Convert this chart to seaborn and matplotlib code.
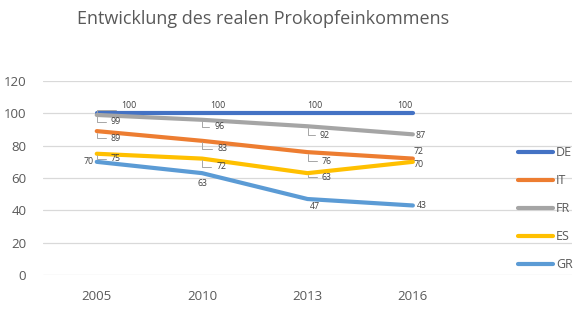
import numpy as np
import pandas as pd
import matplotlib
matplotlib.use("Agg")
import matplotlib.pyplot as plt
import seaborn as sns

years = ["2005", "2010", "2013", "2016"]
countries = ["DE", "IT", "FR", "ES", "GR"]
de = [100, 100, 100, 100]
it = [89, 83, 76, 72]
fr = [99, 96, 92, 87]
es = [75, 72, 63, 70]
gr = [70, 63, 47, 43]
colors = ["#4472C4", "#ED7D31", "#A5A5A5", "#FFC000", "#5B9BD5"]

series = {"DE": de, "IT": it, "FR": fr, "ES": es, "GR": gr}
rows = []
for c in countries:
    for i, y in enumerate(years):
        rows.append({"idx": i, "Jahr": y, "Land": c, "Wert": series[c][i]})
df = pd.DataFrame(rows)

sns.set_theme(style="white")
plt.rcParams["font.family"] = ["Open Sans", "DejaVu Sans"]

fig = plt.figure(figsize=(5.82, 3.21), dpi=100)
ax = fig.add_axes([43/582, 1-275/321, (572-43)/582, (275-81)/321])

sns.lineplot(data=df, x="idx", y="Wert", hue="Land", hue_order=countries,
             palette=colors, linewidth=3, ax=ax, legend=True, sort=False)
for ln in ax.get_lines():
    ln.set_solid_capstyle("round")

ax.set_xlim(-0.51, 4.51)
ax.set_ylim(0, 120)
ax.set_yticks(np.arange(0, 121, 20))
ax.set_xticks(range(len(years)))
ax.set_xticklabels(years)
ax.set_xlabel("")
ax.set_ylabel("")
ax.grid(axis="y", color="#d9d9d9", linewidth=0.9)
ax.set_axisbelow(True)
for s in ax.spines.values():
    s.set_visible(False)
ax.tick_params(axis="both", length=0, labelsize=9.5, colors="#595959")
ax.tick_params(axis="y", pad=12)
ax.tick_params(axis="x", pad=11)

# data labels: (dx, dy) pixel offsets, ha, leader
offsets = {
    "DE": [(32, 8, "center", True), (16, 8, "center", False), (7, 8, "center", False), (-8, 8, "center", False)],
    "FR": [(14, -7, "left", True), (12, -7, "left", True), (12, -9, "left", True), (3, -1, "left", False)],
    "IT": [(14, -7, "left", True), (15, -8, "left", True), (14, -9, "left", True), (1, 7, "left", False)],
    "ES": [(14, -5, "left", True), (14, -8, "left", True), (14, -4, "left", True), (1, -3, "left", False)],
    "GR": [(-3, 0, "right", False), (0, -10, "center", False), (7, -7, "center", False), (4, 0, "left", False)],
}
for c in countries:
    for i, v in enumerate(series[c]):
        dx, dy, ha, lead = offsets[c][i]
        kw = {}
        if lead:
            kw["arrowprops"] = dict(arrowstyle="-", color="#a6a6a6", lw=0.7,
                                    shrinkA=1, shrinkB=1,
                                    connectionstyle="angle,angleA=0,angleB=90,rad=0",
                                    relpos=(0, 0.5) if ha == "left" else (0.5, 0))
        ax.annotate(str(v), xy=(i, v), xytext=(dx, dy), textcoords="offset pixels",
                    ha=ha, va="center", fontsize=6.3, color="#404040", **kw)

leg = ax.legend(loc="upper left", bbox_to_anchor=(518/582, 1-146.5/321),
                bbox_transform=fig.transFigure, frameon=False, fontsize=9,
                handlelength=2.8, handletextpad=0.25, labelspacing=1.2,
                borderpad=0, borderaxespad=0)
for t in leg.get_texts():
    t.set_color("#595959")
for h in leg.legend_handles:
    h.set_linewidth(3)

fig.text(263/582, 1-19/321, "Entwicklung des realen Prokopfeinkommens",
         ha="center", va="center", fontsize=13, color="#595959")

fig.savefig("out.png", dpi=100)
